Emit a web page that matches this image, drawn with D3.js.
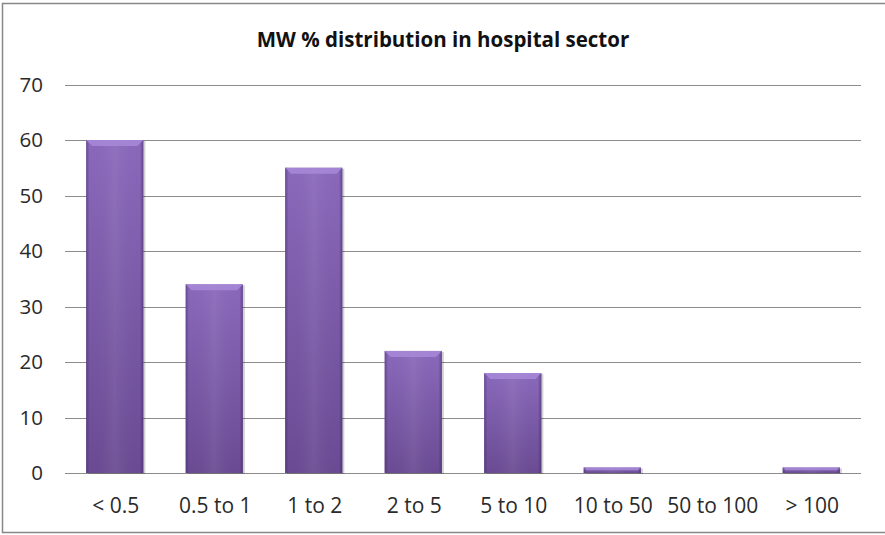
<!DOCTYPE html>
<html>
<head>
<meta charset="utf-8">
<script src="https://cdn.jsdelivr.net/npm/d3@7"></script>
<style>
  html, body { margin: 0; padding: 0; background: #fff; }
  svg { display: block; }
</style>
</head>
<body>
<script>
const categories = ["< 0.5", "0.5 to 1", "1 to 2", "2 to 5", "5 to 10", "10 to 50", "50 to 100", "> 100"];
const values = [60, 34, 55, 22, 18, 1, 0, 1];
const yTicks = [0, 10, 20, 30, 40, 50, 60, 70];
const title = "MW % distribution in hospital sector";

const W = 885, H = 535;
const margin = { left: 65, right: 24, top: 84.5, bottom: 62 };

const svg = d3.select("body").append("svg").attr("width", W).attr("height", H);
const defs = svg.append("defs");

const vg = defs.append("linearGradient").attr("id", "barV").attr("x1", 0).attr("y1", 0).attr("x2", 0).attr("y2", 1);
vg.append("stop").attr("offset", "0%").attr("stop-color", "#8a69bb");
vg.append("stop").attr("offset", "100%").attr("stop-color", "#6a4b93");

const hg = defs.append("linearGradient").attr("id", "barH").attr("x1", 0).attr("y1", 0).attr("x2", 1).attr("y2", 0);
hg.append("stop").attr("offset", "0%").attr("stop-color", "#3a2260").attr("stop-opacity", 0.45);
hg.append("stop").attr("offset", "6%").attr("stop-color", "#3a2260").attr("stop-opacity", 0.0);
hg.append("stop").attr("offset", "50%").attr("stop-color", "#ffffff").attr("stop-opacity", 0.06);
hg.append("stop").attr("offset", "94%").attr("stop-color", "#3a2260").attr("stop-opacity", 0.0);
hg.append("stop").attr("offset", "100%").attr("stop-color", "#3a2260").attr("stop-opacity", 0.5);

// outer border
svg.append("rect").attr("x", 2.5).attr("y", 3.5).attr("width", W + 10).attr("height", 529)
  .attr("fill", "none").attr("stroke", "#878787").attr("stroke-width", 1.5);

const x = d3.scaleBand().domain(categories).range([margin.left, W - margin.right]).paddingInner(0.425).paddingOuter(0.2125);
const y = d3.scaleLinear().domain([0, 70]).range([H - margin.bottom, margin.top]);

// grid
svg.append("g").selectAll("line").data(yTicks).join("line")
  .attr("x1", margin.left).attr("x2", W - margin.right)
  .attr("y1", d => Math.round(y(d)) + 0.5).attr("y2", d => Math.round(y(d)) + 0.5)
  .attr("stroke", "#8c8c8c").attr("stroke-width", 1);

// y labels
svg.append("g").selectAll("text").data(yTicks).join("text")
  .attr("x", 43).attr("y", d => y(d)).attr("dy", "0.36em")
  .attr("text-anchor", "end")
  .attr("font-family", "'Open Sans', sans-serif").attr("font-size", 20.5).attr("fill", "#2a2a2a")
  .text(d => d);

// x labels
svg.append("g").selectAll("text").data(categories).join("text")
  .attr("x", d => x(d) + x.bandwidth() / 2 + 1).attr("y", 513)
  .attr("text-anchor", "middle")
  .attr("font-family", "'Open Sans', sans-serif").attr("font-size", 21).attr("fill", "#2a2a2a")
  .text(d => d);

// bars
const data = categories.map((c, i) => ({ c, v: values[i] })).filter(d => d.v > 0);
const bars = svg.append("g").selectAll("g").data(data).join("g");
// shadow
bars.append("rect")
  .attr("x", d => x(d.c) + 2).attr("y", d => y(d.v) + 1)
  .attr("width", x.bandwidth()).attr("height", d => y(0) - y(d.v))
  .attr("fill", "#000").attr("opacity", 0.18);
bars.append("rect")
  .attr("x", d => x(d.c)).attr("y", d => y(d.v))
  .attr("width", x.bandwidth()).attr("height", d => y(0) - y(d.v))
  .attr("fill", "url(#barV)");
bars.append("rect")
  .attr("x", d => x(d.c)).attr("y", d => y(d.v))
  .attr("width", x.bandwidth()).attr("height", d => y(0) - y(d.v))
  .attr("fill", "url(#barH)");
// top bevel
bars.append("path")
  .attr("d", d => {
    const x0 = x(d.c), x1 = x0 + x.bandwidth(), t = y(d.v);
    const b = Math.min(6, (y(0) - t) / 2);
    return `M${x0},${t}L${x1},${t}L${x1 - b},${t + b}L${x0 + b},${t + b}Z`;
  })
  .attr("fill", "#a88ad8").attr("opacity", 0.85);

// title
svg.append("text").attr("x", 443).attr("y", 47).attr("text-anchor", "middle")
  .attr("font-family", "'Open Sans', sans-serif").attr("font-weight", "bold").attr("font-size", 20.5).attr("fill", "#111")
  .text(title);
</script>
</body>
</html>
